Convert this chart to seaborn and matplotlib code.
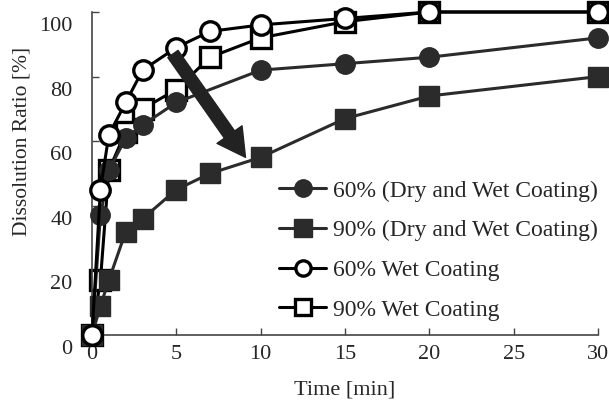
import matplotlib
matplotlib.use("Agg")
import matplotlib.pyplot as plt
import matplotlib.transforms as mtransforms
import pandas as pd
import seaborn as sns

# dissolution data
t_60_dry = [0, 0.5, 1, 2, 3, 5, 10, 15, 20, 30]
v_60_dry = [0, 37, 51, 61, 65, 72, 82, 84, 86, 92]

t_90_dry = [0, 0.5, 1, 2, 3, 5, 7, 10, 15, 20, 30]
v_90_dry = [0, 9, 17, 32, 36, 45, 50, 55, 67, 74, 80]

t_60_wet = [0, 0.5, 1, 2, 3, 5, 7, 10, 15, 20, 30]
v_60_wet = [0, 45, 62, 72, 82, 89, 94, 96, 98, 100, 100]

t_90_wet = [0, 0.5, 1, 2, 3, 5, 7, 10, 15, 20, 30]
v_90_wet = [0, 17, 51, 63, 70, 76, 86, 92, 97, 100, 100]

labels = [
    "60% (Dry and Wet Coating)",
    "90% (Dry and Wet Coating)",
    "60% Wet Coating",
    "90% Wet Coating",
]
x_ticks = [0, 5, 10, 15, 20, 25, 30]
y_ticks = [0, 20, 40, 60, 80, 100]

sns.set_style("ticks")
plt.rcParams["font.family"] = ["Liberation Serif", "DejaVu Serif"]

fig = plt.figure(figsize=(6.09, 4.04), dpi=100)
ax = fig.add_axes([92 / 609, 69 / 404, 506 / 609, 323 / 404])

dark = "#2b2b2b"
common = dict(linewidth=2.2, markersize=14, clip_on=False, ax=ax)

# drawing order follows the overlaps in the picture
sns.lineplot(x=t_90_wet, y=v_90_wet, marker="s", color="black",
             markerfacecolor="white", markeredgecolor="black",
             markeredgewidth=2.4, label=labels[3], zorder=2, **common)
sns.lineplot(x=t_90_dry, y=v_90_dry, marker="s", color=dark,
             markerfacecolor=dark, markeredgecolor=dark,
             markeredgewidth=1, label=labels[1], zorder=3, **common)
sns.lineplot(x=t_60_dry, y=v_60_dry, marker="o", color=dark,
             markerfacecolor=dark, markeredgecolor=dark,
             markeredgewidth=1, label=labels[0], zorder=4, **common)
sns.lineplot(x=t_60_wet, y=v_60_wet, marker="o", color="black",
             markerfacecolor="white", markeredgecolor="black",
             markeredgewidth=2.4, label=labels[2], zorder=5, **common)

ax.annotate("", xy=(9.1, 55), xytext=(4.8, 87),
            arrowprops=dict(arrowstyle="simple,head_length=2.0,head_width=2.2,tail_width=0.9",
                            color="#222222", shrinkA=0, shrinkB=0, mutation_scale=10),
            zorder=6)

ax.set_xlim(0, 30)
ax.set_ylim(0, 100)
ax.set_xticks(x_ticks)
ax.set_yticks(y_ticks)
sns.despine(ax=ax)
for side in ["left", "bottom"]:
    ax.spines[side].set_color("#444444")
    ax.spines[side].set_linewidth(1.2)
ax.tick_params(direction="in", length=5, width=1, color="#444444", labelsize=16)
ax.tick_params(axis="x", pad=7)
ax.tick_params(axis="y", pad=14)

# y tick labels sit a little below their ticks in the original
shift = mtransforms.ScaledTranslation(0, -12 / 100, fig.dpi_scale_trans)
for lab in ax.get_yticklabels():
    lab.set_transform(lab.get_transform() + shift)

ax.set_xlabel("Time [min]", fontsize=16, labelpad=12)
ax.set_ylabel("Dissolution Ratio [%]", fontsize=15.5)
ax.yaxis.set_label_coords(-0.12, 0.6)

handles, labs = ax.get_legend_handles_labels()
order = [labs.index(l) for l in labels]
leg = ax.legend([handles[i] for i in order], labels, loc="upper left",
                bbox_to_anchor=(279 / 609, 1 - 180 / 404), bbox_transform=fig.transFigure,
                frameon=False, fontsize=17, handlelength=2.0, handletextpad=0.3,
                labelspacing=0.77, borderpad=0, borderaxespad=0)
for h, ms in zip(leg.legend_handles, [12.5, 13, 11, 11]):
    h.set_markersize(ms)

fig.savefig("out.png", dpi=100)
